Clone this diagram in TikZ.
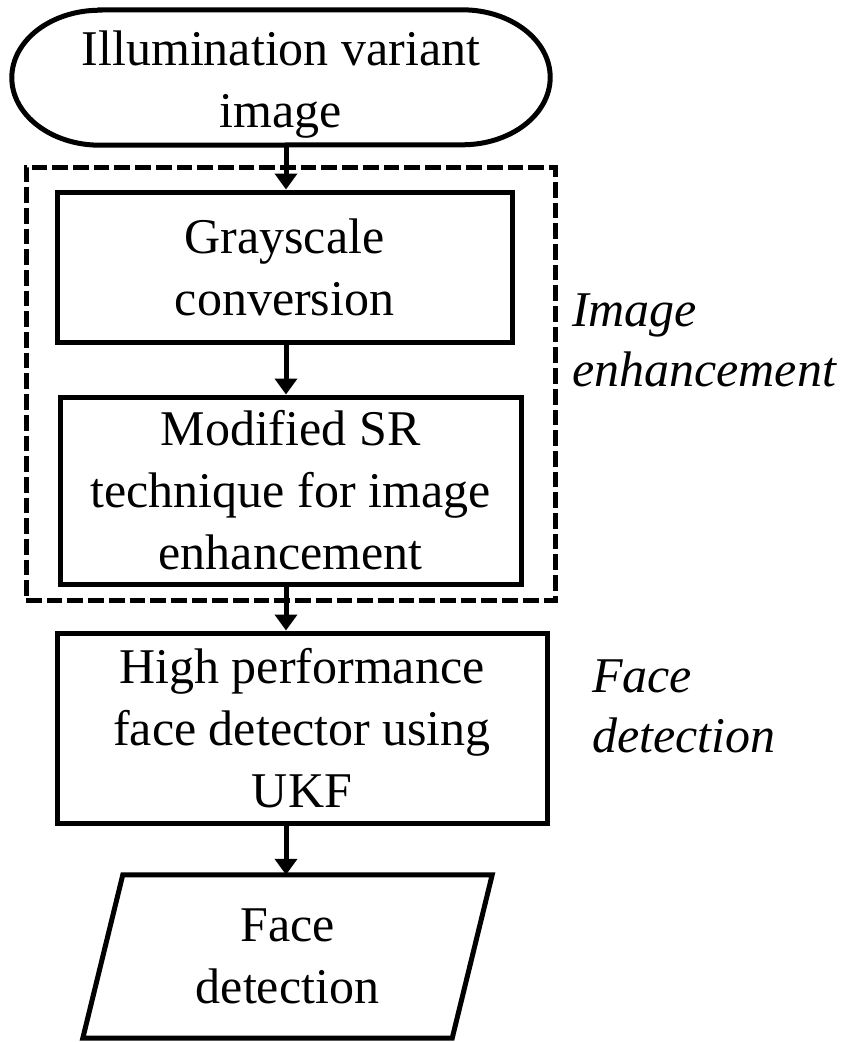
\documentclass[tikz,border=0pt]{standalone}
\usepackage{fontspec}
\setmainfont{Liberation Serif}
\usetikzlibrary{arrows.meta}
\begin{document}
\begin{tikzpicture}[x=1pt,y=-1pt,
  boxtext/.style={inner sep=0pt, align=center, font=\fontsize{50}{62}\selectfont},
  procbox/.style={boxtext, draw, line width=5pt, rectangle},
  outline/.style={line width=5pt, line join=miter},
  flow/.style={line width=5pt, -{Triangle[width=22pt,length=16pt]}},
  groupbox/.style={draw, line width=5pt, dash pattern=on 15.7pt off 5pt, inner sep=0pt},
  stagelabel/.style={inner sep=0pt, align=left, anchor=north west,
                     font=\itshape\fontsize{50}{60}\selectfont}]
\useasboundingbox (0,0) rectangle (849,1042);

% vertical line along which the connectors run
\coordinate (axis) at (286,0);

% terminal: input image
\node[boxtext, minimum width=538pt, minimum height=135pt] (start) at (281,77.5)
  {\rule{0pt}{48pt}Illumination variant\\image};
\draw[outline] ([xshift=88pt]start.north west) -- ([xshift=-88pt]start.north east)
  arc[start angle=90, end angle=-90, x radius=88pt, y radius=67.5pt]
  -- ([xshift=88pt]start.south west)
  arc[start angle=270, end angle=90, x radius=88pt, y radius=67.5pt] -- cycle;

% image enhancement group
\node[groupbox, minimum width=529pt, minimum height=433pt] (grp) at (290.5,383.5) {};
\node[procbox, minimum width=455pt, minimum height=150pt] (gray) at (284.5,267)
  {Grayscale\\conversion};
\node[procbox, minimum width=461pt, minimum height=187pt] (msr) at (290.5,490.5)
  {Modified SR\\technique for image\\enhancement};

% face detection stage
\node[procbox, minimum width=490pt, minimum height=190pt] (ukf) at (302,728)
  {High performance\\face detector using\\UKF};

% output: parallelogram
\node[boxtext, minimum width=409pt, minimum height=163pt] (out) at (287.5,956.5)
  {Face\\detection};
\draw[outline] ([xshift=40pt]out.north west) -- (out.north east)
  -- ([xshift=-40pt]out.south east) -- (out.south west) -- cycle;

% connectors
\draw[flow] (start.south -| axis) -- (gray.north -| axis);
\draw[flow] (gray.south -| axis) -- (msr.north -| axis);
\draw[flow] (msr.south -| axis) -- (ukf.north -| axis);
\draw[flow] (ukf.south -| axis) -- (out.north -| axis);

% stage labels
\node[stagelabel] (lblenh) at (572,294) {Image\\enhancement};
\node[stagelabel] (lbldet) at (592,660) {Face\\detection};
\end{tikzpicture}
\end{document}
